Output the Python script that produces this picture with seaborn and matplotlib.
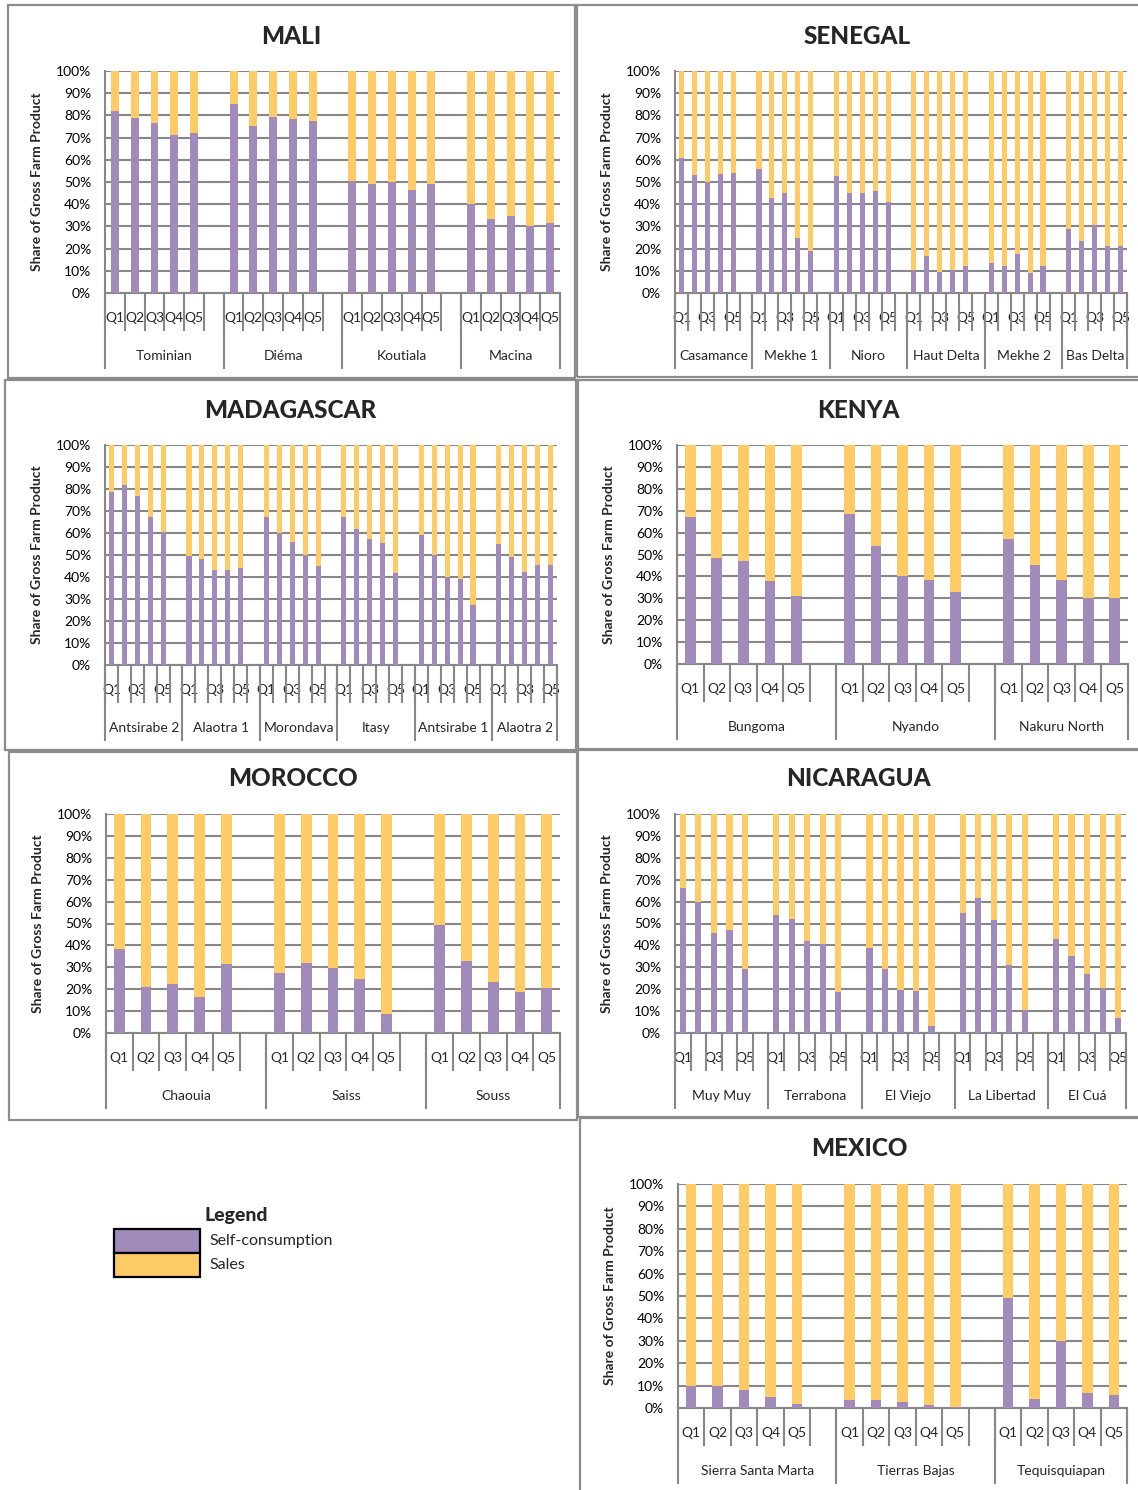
import numpy as np
import pandas as pd
import matplotlib
matplotlib.use("Agg")
import matplotlib.pyplot as plt
import seaborn as sns
from matplotlib.patches import Rectangle
from matplotlib.transforms import blended_transform_factory
from matplotlib.ticker import FuncFormatter

# ---------------- data (self-consumption share, %; sales = 100 - self) ----------------
quintiles = ["Q1", "Q2", "Q3", "Q4", "Q5"]

mali_regions = ["Tominian", "Diéma", "Koutiala", "Macina"]
mali_self = [[82, 79, 76.5, 71, 72],
             [85, 75, 79.5, 78.5, 77.5],
             [50.5, 49, 50, 46.5, 49],
             [40, 33.5, 34.5, 30, 31.5]]

senegal_regions = ["Casamance", "Mekhe 1", "Nioro", "Haut Delta", "Mekhe 2", "Bas Delta"]
senegal_self = [[61, 53, 50, 53.5, 54],
                [56, 43, 45, 25, 19],
                [52.5, 45, 45, 46, 41],
                [10.5, 16.5, 9.5, 10.5, 12],
                [13.5, 12, 17.5, 9, 12],
                [29, 23.5, 30.5, 21, 21]]

madagascar_regions = ["Antsirabe 2", "Alaotra 1", "Morondava", "Itasy", "Antsirabe 1", "Alaotra 2"]
madagascar_self = [[78.5, 82, 77, 67.5, 60.5],
                   [49.5, 48, 43, 43, 44],
                   [67.5, 60, 56, 50, 45],
                   [67.5, 62, 57.5, 55.5, 42],
                   [59, 50, 40, 39, 27.5],
                   [55, 49, 42.5, 45.5, 45.5]]

kenya_regions = ["Bungoma", "Nyando", "Nakuru North"]
kenya_self = [[67, 48.5, 47, 38, 31],
              [68.5, 54, 40, 38.5, 33],
              [57, 45, 38.5, 30, 30]]

morocco_regions = ["Chaouia", "Saiss", "Souss"]
morocco_self = [[38.5, 21, 22.5, 16.5, 31.5],
                [27.5, 32, 29.5, 24.5, 8.5],
                [49.5, 33, 23.5, 18.5, 20.5]]

nicaragua_regions = ["Muy Muy", "Terrabona", "El Viejo", "La Libertad", "El Cuá"]
nicaragua_self = [[66, 60, 45.5, 47, 29],
                  [54, 52, 42, 40.5, 18.5],
                  [39, 29, 19.5, 19, 3],
                  [55, 61.5, 51.5, 31, 10.5],
                  [43, 35, 27, 20.5, 7]]

mexico_regions = ["Sierra Santa Marta", "Tierras Bajas", "Tequisquiapan"]
mexico_self = [[10, 10, 8, 5, 2],
               [3.5, 3.5, 2.5, 1.5, 0.5],
               [49, 4, 30, 6.5, 6]]

legend_labels = ["Self-consumption", "Sales"]

# ---------------- style ----------------
SELF_C = "#A08BBB"
SALES_C = "#FFCB66"
GRID_C = "#878787"
BORDER_C = "#8C8C8C"

W, H = 1138, 1490
sns.set_style("white")
plt.rcParams["font.family"] = ["Lato", "DejaVu Sans"]

fig = plt.figure(figsize=(W / 100, H / 100), dpi=100)


def fx(x):
    return x / W


def fy(y):
    return 1 - y / H


def draw_panel(title, regions, values, border, area, step):
    bx0, by0, bx1, by1 = border
    fig.patches.append(Rectangle((fx(bx0), fy(by1)), (bx1 - bx0) / W, (by1 - by0) / H,
                                 transform=fig.transFigure, fill=False,
                                 edgecolor=BORDER_C, lw=1.6, zorder=0))
    x0, y0, x1, y1 = area
    w, h = x1 - x0, y1 - y0
    ax = fig.add_axes([fx(x0), fy(y1), w / W, h / H])

    rows = []
    for g, (r, vals) in enumerate(zip(regions, values)):
        for q, (ql, v) in enumerate(zip(quintiles, vals)):
            rows.append(dict(region=r, quintile=ql, qi=q, pos=g * 6 + q + 0.5,
                             self=v, total=100.0))
    df = pd.DataFrame(rows)

    sns.barplot(data=df, x="pos", y="total", native_scale=True, orient="x",
                color=SALES_C, saturation=1, width=0.4, errorbar=None,
                linewidth=0, ax=ax, zorder=3)
    sns.barplot(data=df, x="pos", y="self", native_scale=True, orient="x",
                color=SELF_C, saturation=1, width=0.4, errorbar=None,
                linewidth=0, ax=ax, zorder=4)

    nslots = 6 * len(regions) - 1
    ax.set_xlim(0, nslots)
    ax.set_ylim(0, 100)
    ax.set_yticks(range(0, 101, 10))
    ax.yaxis.set_major_formatter(FuncFormatter(lambda v, p: f"{int(v)}%"))
    ax.yaxis.grid(True, color=GRID_C, lw=1.5)
    ax.xaxis.grid(False)
    ax.set_axisbelow(True)
    for s in ["top", "right"]:
        ax.spines[s].set_visible(False)
    for s in ["left", "bottom"]:
        ax.spines[s].set_color(GRID_C)
        ax.spines[s].set_linewidth(1.5)
    ax.tick_params(axis="y", length=4, width=1.5, color=GRID_C, pad=6,
                   labelsize=10, labelcolor="#000000")

    lab = df[df["qi"] % step == 0]
    ax.set_xticks(lab["pos"].to_numpy())
    ax.set_xticklabels(lab["quintile"].tolist())
    ax.tick_params(axis="x", length=0, pad=13.5, labelsize=10)
    ax.set_xlabel("")

    ax.set_ylabel("Share of Gross Farm Product", fontsize=10, fontweight="bold")
    ax.yaxis.set_label_coords(-68 / w, 0.5)
    ax.yaxis.label.set_verticalalignment("center")

    trans = blended_transform_factory(ax.transData, ax.transAxes)
    ax.vlines(np.arange(0, nslots + 1), -38 / h, 0, transform=trans,
              colors=GRID_C, lw=1.5, clip_on=False)
    gb = [6 * g for g in range(len(regions))] + [nslots]
    ax.vlines(gb, -76 / h, 0, transform=trans, colors=GRID_C, lw=1.5, clip_on=False)
    for g, r in enumerate(regions):
        c = (gb[g] + gb[g + 1]) / 2
        ax.text(c, -63 / h, r, transform=trans, ha="center", va="center",
                fontsize=10)

    fig.text(fx((bx0 + min(bx1, W)) / 2), fy(y0 - 35), title, ha="center",
             va="center", fontsize=17.5, fontweight="black")
    return ax


draw_panel("MALI", mali_regions, mali_self, (8, 5, 575, 378), (105, 71, 560, 293), 1)
draw_panel("SENEGAL", senegal_regions, senegal_self, (577, 5, 1145, 377), (675, 71, 1127, 293), 2)
draw_panel("MADAGASCAR", madagascar_regions, madagascar_self, (5, 380, 576, 750), (105, 445, 557, 665), 2)
draw_panel("KENYA", kenya_regions, kenya_self, (578, 380, 1145, 749), (677, 445, 1128, 664), 1)
draw_panel("MOROCCO", morocco_regions, morocco_self, (9, 752, 577, 1120), (106, 814, 560, 1033), 1)
draw_panel("NICARAGUA", nicaragua_regions, nicaragua_self, (578, 750, 1145, 1117), (675, 814, 1126, 1033), 2)
draw_panel("MEXICO", mexico_regions, mexico_self, (580, 1118, 1145, 1500), (678, 1184, 1127, 1408), 1)

# ---------------- legend ----------------
for i, (lbl, col) in enumerate(zip(legend_labels, [SELF_C, SALES_C])):
    top = 1229 + i * 24
    fig.patches.append(Rectangle((fx(114), fy(top + 24)), 86 / W, 24 / H,
                                 transform=fig.transFigure, facecolor=col,
                                 edgecolor="black", lw=1.6))
    fig.text(fx(209), fy(top + 12), lbl, ha="left", va="center", fontsize=11.5)
fig.text(fx(204), fy(1216), "Legend", ha="left", va="center", fontsize=14,
         fontweight="black")

fig.savefig("out.png", dpi=100)
